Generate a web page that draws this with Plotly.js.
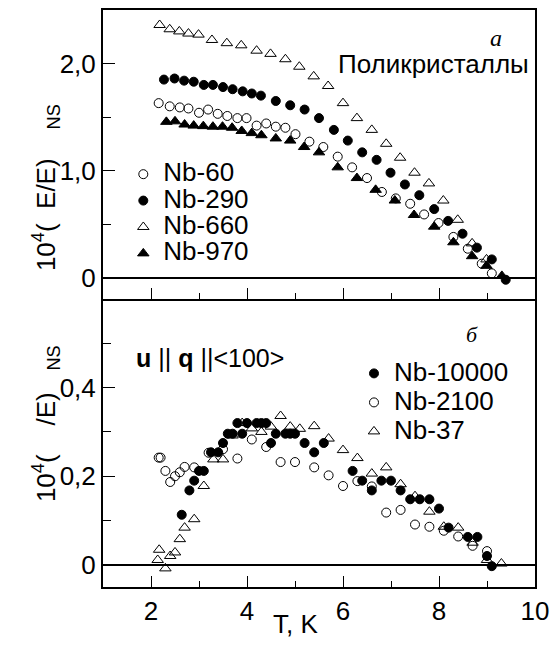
<!DOCTYPE html>
<html>
<head>
<meta charset="utf-8">
<script src="https://cdn.plot.ly/plotly-3.0.1.min.js"></script>
<style>html,body{margin:0;padding:0;background:#fff;}#chart{width:551px;height:646px;}</style>
</head>
<body>
<div id="chart"></div>
<script>
// ---- Top panel (а): polycrystals ----
const nb60_T = [2.16,2.39,2.60,2.78,3.00,3.19,3.39,3.59,3.80,3.99,4.20,4.40,4.60,4.80,5.01,5.30,5.59,5.89,6.19,6.50,6.81,7.10,7.40,7.69,7.99,8.30,8.60,8.89,9.10];
const nb60_V = [1.63,1.60,1.59,1.58,1.54,1.57,1.53,1.51,1.49,1.49,1.42,1.44,1.41,1.40,1.34,1.27,1.22,1.13,1.03,0.93,0.80,0.74,0.69,0.59,0.51,0.38,0.27,0.13,0.04];

const nb290_T = [2.27,2.49,2.69,2.89,3.10,3.29,3.50,3.70,3.91,4.10,4.29,4.60,4.90,5.20,5.50,5.81,6.10,6.40,6.70,6.99,7.29,7.59,7.90,8.19,8.49,8.79,9.10,9.39];
const nb290_V = [1.85,1.86,1.84,1.83,1.80,1.80,1.78,1.76,1.74,1.72,1.70,1.65,1.61,1.57,1.49,1.38,1.28,1.17,1.10,0.98,0.87,0.77,0.64,0.53,0.41,0.28,0.17,-0.02];

const nb660_T = [2.18,2.39,2.59,2.78,2.99,3.27,3.58,3.88,4.20,4.49,4.80,5.09,5.39,5.69,6.00,6.29,6.60,6.90,7.19,7.49,7.79,8.09,8.39,8.69,8.99];
const nb660_V = [2.36,2.32,2.30,2.28,2.27,2.22,2.19,2.17,2.12,2.09,2.04,1.97,1.88,1.79,1.63,1.49,1.38,1.25,1.12,0.98,0.88,0.72,0.54,0.32,0.17];

const nb970_T = [2.32,2.50,2.70,2.89,3.09,3.29,3.49,3.69,3.89,4.10,4.30,4.60,4.90,5.19,5.50,5.89,6.29,6.68,7.08,7.48,7.90,8.30,8.69,8.99,9.31];
const nb970_V = [1.455,1.46,1.43,1.42,1.415,1.41,1.41,1.40,1.37,1.35,1.33,1.30,1.28,1.22,1.17,1.03,0.93,0.82,0.72,0.585,0.476,0.33,0.20,0.11,0.016];

// ---- Bottom panel (б): u || q || <100> ----
const nb10000_T = [2.64,2.80,2.90,3.00,3.10,3.25,3.40,3.50,3.60,3.70,3.80,3.90,4.00,4.20,4.30,4.40,4.50,4.60,4.80,4.90,5.00,5.20,5.40,5.60,6.20,6.40,6.60,6.80,7.00,7.20,7.40,7.60,7.80,8.00,8.20,8.60,8.80,9.00,9.10];
const nb10000_V = [0.113,0.168,0.19,0.212,0.212,0.254,0.254,0.275,0.296,0.296,0.32,0.296,0.32,0.32,0.32,0.32,0.275,0.296,0.296,0.296,0.296,0.275,0.254,0.275,0.212,0.19,0.168,0.19,0.19,0.168,0.148,0.148,0.148,0.127,0.084,0.063,0.063,0.02,-0.003];

const nb2100_T = [2.16,2.20,2.30,2.40,2.50,2.60,2.70,2.90,3.20,3.50,3.80,4.10,4.40,4.70,5.00,5.40,5.70,6.00,6.30,6.60,6.90,7.20,7.50,7.80,8.10,8.40,8.70,9.00];
const nb2100_V = [0.242,0.242,0.212,0.187,0.200,0.209,0.221,0.220,0.253,0.261,0.240,0.283,0.266,0.232,0.232,0.220,0.202,0.178,0.189,0.177,0.118,0.124,0.091,0.086,0.077,0.064,0.043,0.031];

const nb37_T = [2.14,2.17,2.30,2.40,2.50,2.60,2.70,2.90,3.10,3.30,3.50,3.70,3.90,4.10,4.30,4.50,4.70,4.90,5.10,5.40,5.70,6.00,6.30,6.60,6.90,7.20,7.50,7.80,8.10,8.40,8.70,9.00,9.30];
const nb37_V = [0.011,0.034,-0.008,0.020,0.028,0.058,0.084,0.103,0.178,0.238,0.238,0.292,0.320,0.308,0.300,0.312,0.336,0.312,0.307,0.313,0.285,0.259,0.241,0.206,0.220,0.182,0.155,0.120,0.086,0.084,0.050,0.011,0.003];

// ---- tick labels ----
const xTickVals = [2,4,6,8,10];
const xTickText = ['2','4','6','8','10'];
const xMinorVals = [3,5,7,9];
const yTopTickVals = [0,1,2];
const yTopTickText = ['0','1,0','2,0'];
const yTopMinor = [0.5,1.5];
const yBotTickVals = [0,0.2,0.4];
const yBotTickText = ['0','0,2','0,4'];
const yBotMinor = [0.1,0.3,0.5];

const FONT = 'Liberation Sans, Arial, sans-serif';
const big = s => '<span style="font-size:26px">' + s + '</span>';

function tr(x, y, name, symbol, size, xa, ya, leg) {
  return {
    type: 'scatter', mode: 'markers', x: x, y: y, name: big(name),
    xaxis: xa, yaxis: ya, legend: leg,
    marker: {symbol: symbol, size: size, color: '#000', line: {color: '#000', width: 1}}
  };
}

const data = [
  tr(nb60_T, nb60_V, 'Nb-60', 'circle-open', 9, 'x2', 'y2', 'legend'),
  tr(nb290_T, nb290_V, 'Nb-290', 'circle', 9, 'x2', 'y2', 'legend'),
  tr(nb660_T, nb660_V, 'Nb-660', 'triangle-up-open', 10, 'x2', 'y2', 'legend'),
  tr(nb970_T, nb970_V, 'Nb-970', 'triangle-up', 10, 'x2', 'y2', 'legend'),
  tr(nb10000_T, nb10000_V, 'Nb-10000', 'circle', 9, 'x', 'y', 'legend2'),
  tr(nb2100_T, nb2100_V, 'Nb-2100', 'circle-open', 9, 'x', 'y', 'legend2'),
  tr(nb37_T, nb37_V, 'Nb-37', 'triangle-up-open', 10, 'x', 'y', 'legend2')
];

const xCommon = {
  range: [1, 10], tickmode: 'array', tickvals: xTickVals, ticktext: xTickText,
  ticks: 'inside', ticklen: 11, tickwidth: 1, tickcolor: '#000',
  minor: {tickmode: 'array', tickvals: xMinorVals, ticks: 'inside', ticklen: 6, tickwidth: 1, tickcolor: '#000', showgrid: false},
  showline: true, linewidth: 2, linecolor: '#000',
  showgrid: false, zeroline: false,
  tickfont: {family: FONT, size: 26, color: '#000'}
};

function yAxis(domain, range, tv, tt, minor) {
  return {
    domain: domain, range: range, tickmode: 'array', tickvals: tv, ticktext: tt,
    ticks: 'inside', ticklen: 12, tickwidth: 1, tickcolor: '#000',
    minor: {tickmode: 'array', tickvals: minor, ticks: 'inside', ticklen: 8, tickwidth: 1, tickcolor: '#000', showgrid: false},
    showline: true, linewidth: 2, linecolor: '#000', mirror: true,
    showgrid: false, zeroline: true, zerolinecolor: '#000', zerolinewidth: 2,
    tickfont: {family: FONT, size: 26, color: '#000'}
  };
}

const split = 0.4991;
const layout = {
  width: 551, height: 646,
  margin: {l: 103, r: 16, t: 10, b: 59},
  paper_bgcolor: '#fff', plot_bgcolor: '#fff',
  font: {family: FONT, color: '#000'},
  xaxis: Object.assign({}, xCommon, {anchor: 'y', domain: [0, 1], mirror: false}),
  xaxis2: Object.assign({}, xCommon, {anchor: 'y2', domain: [0, 1], matches: 'x', showticklabels: false, mirror: true}),
  yaxis: yAxis([0, split], [-0.05, 0.6], yBotTickVals, yBotTickText, yBotMinor),
  yaxis2: yAxis([split, 1], [-0.2, 2.5], yTopTickVals, yTopTickText, yTopMinor),
  showlegend: true,
  legend: {x: 0.047, y: 0.747, xanchor: 'left', yanchor: 'top', bgcolor: 'rgba(0,0,0,0)', borderwidth: 0,
           font: {family: FONT, size: 18, color: '#000'}, itemwidth: 30, tracegroupgap: 0},
  legend2: {x: 0.581, y: 0.404, xanchor: 'left', yanchor: 'top', bgcolor: 'rgba(0,0,0,0)', borderwidth: 0,
           font: {family: FONT, size: 20, color: '#000'}, itemwidth: 30, tracegroupgap: 0},
  annotations: [
    {xref: 'paper', yref: 'paper', x: 0.91, y: 0.951, xanchor: 'center', yanchor: 'middle', showarrow: false,
     text: '<i>a</i>', font: {family: 'Liberation Serif, Times New Roman, serif', size: 24, color: '#000'}},
    {xref: 'paper', yref: 'paper', x: 0.9907, y: 0.907, xanchor: 'right', yanchor: 'middle', showarrow: false,
     text: 'Поликристаллы', font: {family: FONT, size: 26, color: '#000'}},
    {xref: 'paper', yref: 'paper', x: 0.855, y: 0.437, xanchor: 'center', yanchor: 'middle', showarrow: false,
     text: '<i>б</i>', font: {family: 'Liberation Serif, Times New Roman, serif', size: 22, color: '#000'}},
    {xref: 'paper', yref: 'paper', x: 0.072, y: 0.397, xanchor: 'left', yanchor: 'middle', showarrow: false,
     text: '<b>u</b> || <b>q</b> ||&lt;100&gt;', font: {family: FONT, size: 25, color: '#000'}},
    {xref: 'x', yref: 'paper', x: 5, y: -0.064, xanchor: 'center', yanchor: 'middle', showarrow: false,
     text: 'T, K', font: {family: FONT, size: 26, color: '#000'}},
    {xref: 'paper', yref: 'paper', x: -0.132, y: 0.693, xanchor: 'center', yanchor: 'middle', showarrow: false, textangle: -90,
     text: '10<sup>4</sup>(\u00A0\u00A0E/E)\u00A0\u00A0\u00A0\u00A0<sub>NS</sub>', font: {family: FONT, size: 26, color: '#000'}},
    {xref: 'paper', yref: 'paper', x: -0.132, y: 0.284, xanchor: 'center', yanchor: 'middle', showarrow: false, textangle: -90,
     text: '10<sup>4</sup>(\u00A0\u00A0\u00A0\u00A0/E)\u00A0\u00A0\u00A0<sub>NS</sub>', font: {family: FONT, size: 26, color: '#000'}}
  ]
};

Plotly.newPlot('chart', data, layout, {displayModeBar: false, staticPlot: true});
</script>
</body>
</html>
